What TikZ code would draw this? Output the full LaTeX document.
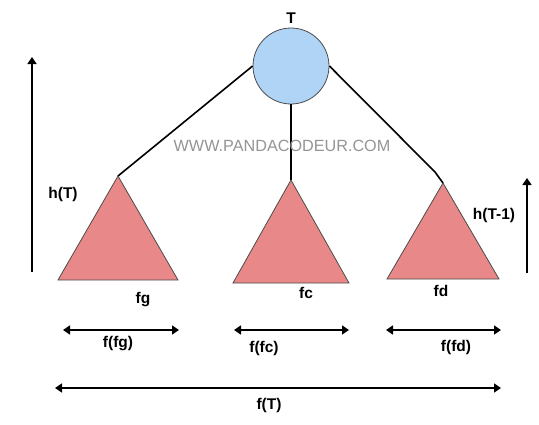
\documentclass[tikz,border=0pt]{standalone}
\usepackage{fontspec}
\setmainfont{Liberation Sans}
\usepackage{xcolor}
\usetikzlibrary{arrows.meta}
\definecolor{rootblue}{HTML}{B0D4F5}
\definecolor{subred}{HTML}{E98888}
\tikzset{
  lbl/.style={font=\fontsize{15.5}{17}\selectfont\bfseries, inner sep=0pt},
  subtree/.style={fill=subred, draw=black!70, line width=0.8pt},
  edge/.style={line width=1.6pt},
  measure/.style={line width=1.6pt, {Triangle[length=7pt,width=9pt]}-{Triangle[length=7pt,width=9pt]}},
  height/.style={line width=1.6pt, -{Triangle[length=7pt,width=9pt]}}
}
\begin{document}
\begin{tikzpicture}[x=1pt,y=-1pt]
  \useasboundingbox (0,0) rectangle (539,424);
  \node[circle, fill=rootblue, draw=black!70, line width=0.8pt, minimum size=76pt] (root) at (291,66) {};
  \node[lbl] (tname) at (291,18) {T};

  \draw[subtree] (118,176) coordinate (gtop) -- (178,280) -- (58,280) -- cycle;
  \draw[subtree] (291,180) coordinate (ctop) -- (349,283) -- (233,283) -- cycle;
  \draw[subtree] (443,183) coordinate (dtop) -- (499,279) -- (387,279) -- cycle;
  \coordinate (dbend) at (435,172);

  \draw[edge] (root.west) -- (gtop);
  \draw[edge] (root) -- (ctop);
  \draw[edge] (root.east) -- (dbend) -- (dtop);

  \node[font=\fontsize{16.2}{18}\selectfont, text=black!42, inner sep=0pt] (mark) at (282,146) {WWW.PANDACODEUR.COM};

  \coordinate (hTlo) at (32,272);
  \coordinate (hThi) at (32,57);
  \coordinate (hSlo) at (527,273);
  \coordinate (hShi) at (527,178);
  \draw[height] (hTlo) -- (hThi);
  \draw[height] (hSlo) -- (hShi);
  \node[lbl] (hT) at (63,194) {h(T)};
  \node[lbl] (hS) at (494,215) {h(T-1)};

  \node[lbl] (fg) at (143,300) {fg};
  \node[lbl] (fc) at (306,293) {fc};
  \node[lbl] (fd) at (441,291) {fd};

  \coordinate (gl) at (63,330);  \coordinate (gr) at (179,330);
  \coordinate (cl) at (234,330); \coordinate (cr) at (349,330);
  \coordinate (dl) at (386,330); \coordinate (dr) at (501,330);
  \coordinate (tl) at (55,388);  \coordinate (tr) at (501,388);
  \draw[measure] (gl) -- (gr);
  \draw[measure] (cl) -- (cr);
  \draw[measure] (dl) -- (dr);
  \draw[measure] (tl) -- (tr);
  \node[lbl] (ffg) at (118,344) {f(fg)};
  \node[lbl] (ffc) at (264,348) {f(fc)};
  \node[lbl] (ffd) at (456,347) {f(fd)};
  \node[lbl] (fT) at (269,405) {f(T)};
\end{tikzpicture}
\end{document}
